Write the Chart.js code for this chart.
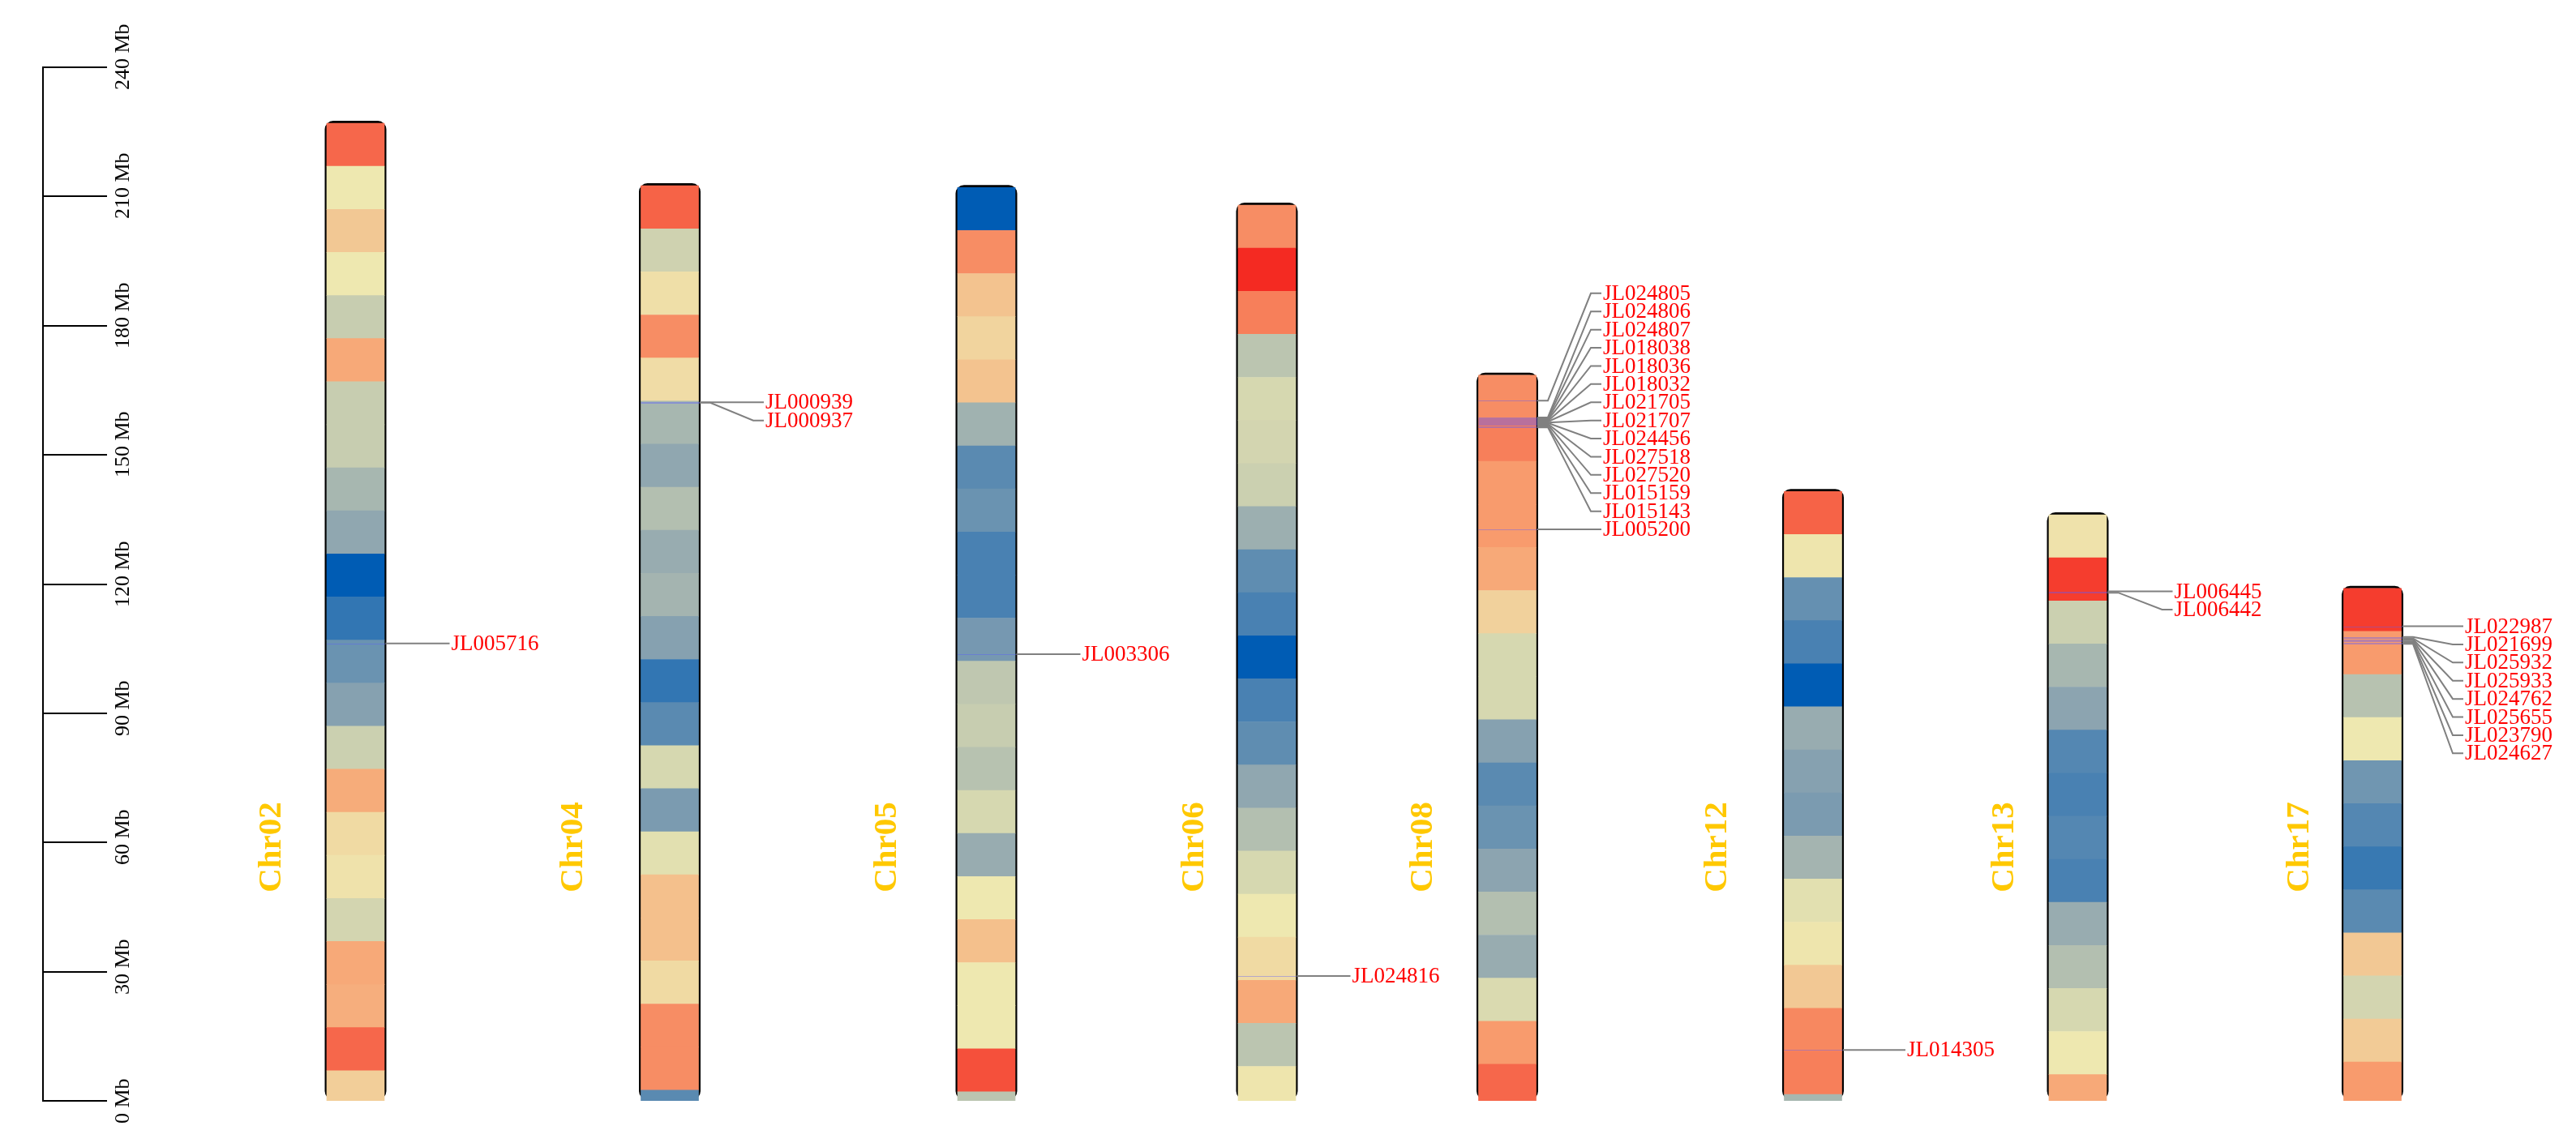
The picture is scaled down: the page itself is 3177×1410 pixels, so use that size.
<!DOCTYPE html>
<html>
<head>
<meta charset="utf-8">
<script src="https://cdn.jsdelivr.net/npm/chart.js@4.4.1/dist/chart.umd.min.js"></script>
<style>
html,body{margin:0;padding:0;background:#ffffff;}
#wrap{width:3177px;height:1410px;position:relative;}
canvas{display:block;}
</style>
</head>
<body>
<div id="wrap"><canvas id="c" width="3177" height="1410"></canvas></div>
<script>
// ---------------- DATA ----------------
const chromosomes   = ['Chr02','Chr04','Chr05','Chr06','Chr08','Chr12','Chr13','Chr17'];
const chromLengthMb = [227.0, 212.5, 212.1, 208.0, 168.5, 141.5, 136.1, 119.0];
const binSizeMb = 10;

// density per 10 Mb bin (0-100), listed from the chromosome end (top) downwards
const densChr02 = [87,50,61,50,40,72,40,40,32,26,0,9,19,24,41,71,55,52,43,72,70,87,59];
const densChr04 = [88,42,53,79,54,32,26,35,28,31,24,9,16,44,22,47,64,64,55,79,79,16];
const densChr05 = [0,79,63,57,63,30,16,19,13,13,21,38,40,36,44,28,50,64,50,50,92,37];
const densChr06 = [79,100,82,37,44,43,41,29,17,13,0,13,17,26,35,44,50,55,72,37,51];
const densChr08 = [79,82,76,76,72,58,44,44,24,16,19,25,35,28,45,76,87];
const densChr12 = [88,51,18,13,0,28,24,22,31,47,51,61,80,82,32];
const densChr13 = [52,96,41,32,25,15,13,15,13,28,35,44,50,72];
const densChr17 = [96,76,36,50,20,15,10,16,61,43,60,76];

// marked genes
const geneNames = ['JL005716',
  'JL000939','JL000937',
  'JL003306',
  'JL024816',
  'JL024805','JL024806','JL024807','JL018038','JL018036','JL018032','JL021705','JL021707',
  'JL024456','JL027518','JL027520','JL015159','JL015143','JL005200',
  'JL014305',
  'JL006445','JL006442',
  'JL022987','JL021699','JL025932','JL025933','JL024762','JL025655','JL023790','JL024627'];
const geneChrom = ['Chr02',
  'Chr04','Chr04',
  'Chr05',
  'Chr06',
  'Chr08','Chr08','Chr08','Chr08','Chr08','Chr08','Chr08','Chr08',
  'Chr08','Chr08','Chr08','Chr08','Chr08','Chr08',
  'Chr12',
  'Chr13','Chr13',
  'Chr17','Chr17','Chr17','Chr17','Chr17','Chr17','Chr17','Chr17'];
const genePosMb = [106.2,
  162.2,162.1,
  103.7,
  29.0,
  162.6,158.7,158.5,158.3,158.1,157.9,157.7,157.5,
  157.4,157.2,157.0,156.6,156.4,132.7,
  11.8,
  118.3,118.0,
  110.2,107.7,107.4,107.2,107.0,106.7,106.4,106.1];

// axis ticks
const tickValuesMb = [0,30,60,90,120,150,180,210,240];
const tickLabels   = ['0 Mb','30 Mb','60 Mb','90 Mb','120 Mb','150 Mb','180 Mb','210 Mb','240 Mb'];

// ---------------- LAYOUT (positions, not data) ----------------
const chromCenterX = [438.5, 826, 1216.5, 1562.5, 1859, 2236, 2562.5, 2926];
const chromLabelX  = [335, 707, 1094, 1473, 1755, 2118, 2472, 2836];
const geneLabelDX  = [118, 118, 118, 105, 118, 116, 119, 114];
const chromLabelY  = 1045;
const rulerX = 53, rulerTickEnd = 132, rulerLabelX = 152;

// ---------------- COLOUR MAP ----------------
const cmapStops = [
  [0.00, [0, 92, 180]],
  [0.25, [140, 164, 176]],
  [0.50, [238, 232, 176]],
  [0.75, [248, 160, 112]],
  [1.00, [244, 42, 34]]
];
function densityColor(v) {
  const t = Math.max(0, Math.min(1, v / 100));
  for (let i = 1; i < cmapStops.length; i++) {
    if (t <= cmapStops[i][0]) {
      const [t0, c0] = cmapStops[i-1], [t1, c1] = cmapStops[i];
      const f = (t - t0) / (t1 - t0);
      const c = c0.map((a, k) => Math.round(a + (c1[k] - a) * f));
      return `rgb(${c[0]},${c[1]},${c[2]})`;
    }
  }
  const c = cmapStops[cmapStops.length-1][1];
  return `rgb(${c[0]},${c[1]},${c[2]})`;
}

// ---------------- BUILD DATASET ----------------
const densityByChrom = [densChr02, densChr04, densChr05, densChr06, densChr08, densChr12, densChr13, densChr17];
const binData = [];
chromosomes.forEach((name, ci) => {
  densityByChrom[ci].forEach((v, i) => {
    const hi = chromLengthMb[ci] - i * binSizeMb;
    const lo = Math.max(0, hi - binSizeMb);
    binData.push({ x: chromCenterX[ci], y: [lo, hi], v: v });
  });
});

// ---------------- LABEL LAYOUT ----------------
function layoutLabels(ys, gap, clusterPx) {
  const clusters = [];
  ys.forEach((yy, i) => {
    if (i > 0 && yy - ys[i-1] <= clusterPx) clusters[clusters.length-1].push(i);
    else clusters.push([i]);
  });
  const cl = clusters.map(c => ({ idx: c, start: ys[c[0]] }));
  for (let k = cl.length - 2; k >= 0; k--) {
    const end = cl[k].start + (cl[k].idx.length - 1) * gap;
    const lim = cl[k+1].start - gap;
    if (end > lim) cl[k].start -= (end - lim);
  }
  for (let k = 1; k < cl.length; k++) {
    const prevEnd = cl[k-1].start + (cl[k-1].idx.length - 1) * gap;
    if (cl[k].start < prevEnd + gap) cl[k].start = prevEnd + gap;
  }
  const pos = new Array(ys.length);
  cl.forEach(c => c.idx.forEach((i, j) => { pos[i] = c.start + j * gap; }));
  return pos;
}

function roundRectPath(ctx, x, y, w, h, r) {
  ctx.beginPath();
  ctx.moveTo(x + r, y);
  ctx.lineTo(x + w - r, y);
  ctx.arcTo(x + w, y, x + w, y + r, r);
  ctx.lineTo(x + w, y + h - r);
  ctx.arcTo(x + w, y + h, x + w - r, y + h, r);
  ctx.lineTo(x + r, y + h);
  ctx.arcTo(x, y + h, x, y + h - r, r);
  ctx.lineTo(x, y + r);
  ctx.arcTo(x, y, x + r, y, r);
  ctx.closePath();
}

const ideogramPlugin = {
  id: 'ideogram',
  beforeDatasetsDraw(chart) {
    const { ctx, scales: { x, y } } = chart;
    ctx.save();
    // ruler
    ctx.strokeStyle = '#000';
    ctx.lineWidth = 2;
    ctx.beginPath();
    ctx.moveTo(rulerX, y.getPixelForValue(tickValuesMb[0]));
    ctx.lineTo(rulerX, y.getPixelForValue(tickValuesMb[tickValuesMb.length-1]));
    ctx.stroke();
    tickValuesMb.forEach((t, i) => {
      const py = Math.round(y.getPixelForValue(t));
      ctx.beginPath();
      ctx.moveTo(rulerX - 1, py);
      ctx.lineTo(rulerTickEnd, py);
      ctx.stroke();
      ctx.save();
      ctx.translate(rulerLabelX, py + 28);
      ctx.rotate(-Math.PI / 2);
      ctx.font = "26px 'Liberation Serif', 'Times New Roman', serif";
      ctx.fillStyle = '#000';
      ctx.textAlign = 'left';
      ctx.textBaseline = 'middle';
      ctx.fillText(tickLabels[i], 0, 0);
      ctx.restore();
    });
    // chromosome outlines
    ctx.strokeStyle = '#000';
    ctx.lineWidth = 3;
    chromosomes.forEach((n, ci) => {
      const cx = x.getPixelForValue(chromCenterX[ci]);
      const top = y.getPixelForValue(chromLengthMb[ci]) - 1.5;
      const bot = y.getPixelForValue(0) - 3;
      roundRectPath(ctx, cx - 36.5, top, 73, bot - top, 9);
      ctx.stroke();
    });
    ctx.restore();
  },
  afterDatasetsDraw(chart) {
    const { ctx, scales: { x, y } } = chart;
    ctx.save();
    const gap = 22.4;
    const clusterPx = Math.abs(y.getPixelForValue(0) - y.getPixelForValue(5));
    chromosomes.forEach((name, ci) => {
      const cx = x.getPixelForValue(chromCenterX[ci]);
      const tx = cx + geneLabelDX[ci];
      const idx = geneNames.map((g, i) => i).filter(i => geneChrom[i] === name)
        .sort((a, b) => genePosMb[b] - genePosMb[a]);
      if (!idx.length) return;
      const gy = idx.map(i => y.getPixelForValue(genePosMb[i]));
      const ly = layoutLabels(gy, gap, clusterPx);
      // marker lines across chromosome
      ctx.strokeStyle = 'rgba(90,90,255,0.4)';
      ctx.lineWidth = 1;
      gy.forEach(py => {
        ctx.beginPath();
        ctx.moveTo(cx - 35.5, Math.round(py) + 0.5);
        ctx.lineTo(cx + 37, Math.round(py) + 0.5);
        ctx.stroke();
      });
      // leader lines
      ctx.strokeStyle = '#808080';
      ctx.lineWidth = 2;
      gy.forEach((py, k) => {
        ctx.beginPath();
        ctx.moveTo(cx + 37, py);
        if (Math.abs(ly[k] - py) < 0.5) {
          ctx.lineTo(tx - 2, ly[k]);
        } else {
          ctx.lineTo(cx + 50, py);
          ctx.lineTo(tx - 15, ly[k]);
          ctx.lineTo(tx - 2, ly[k]);
        }
        ctx.stroke();
      });
      // labels
      ctx.fillStyle = '#ff0000';
      ctx.font = "27px 'Liberation Serif', 'Times New Roman', serif";
      ctx.textAlign = 'left';
      ctx.textBaseline = 'middle';
      idx.forEach((gi, k) => ctx.fillText(geneNames[gi], tx, ly[k] + 1));
    });
    // chromosome names
    chromosomes.forEach((name, ci) => {
      ctx.save();
      ctx.translate(chromLabelX[ci], chromLabelY);
      ctx.rotate(-Math.PI / 2);
      ctx.font = "bold 41px 'Liberation Serif', 'Times New Roman', serif";
      ctx.fillStyle = '#ffc800';
      ctx.textAlign = 'center';
      ctx.textBaseline = 'middle';
      ctx.fillText(name, 0, 0);
      ctx.restore();
    });
    ctx.restore();
  }
};

new Chart(document.getElementById('c').getContext('2d'), {
  type: 'bar',
  data: {
    datasets: [{
      data: binData,
      backgroundColor: c => densityColor(c.raw ? c.raw.v : 0),
      borderWidth: 0,
      barThickness: 71,
      grouped: false
    }]
  },
  options: {
    responsive: false,
    maintainAspectRatio: false,
    animation: false,
    devicePixelRatio: 1,
    layout: { padding: { top: 83, bottom: 52, left: 0, right: 0 } },
    plugins: { legend: { display: false }, tooltip: { enabled: false } },
    scales: {
      x: { type: 'linear', min: 0, max: 3177, display: false, offset: false },
      y: { type: 'linear', min: 0, max: 240, display: false }
    }
  },
  plugins: [ideogramPlugin]
});
</script>
</body>
</html>
